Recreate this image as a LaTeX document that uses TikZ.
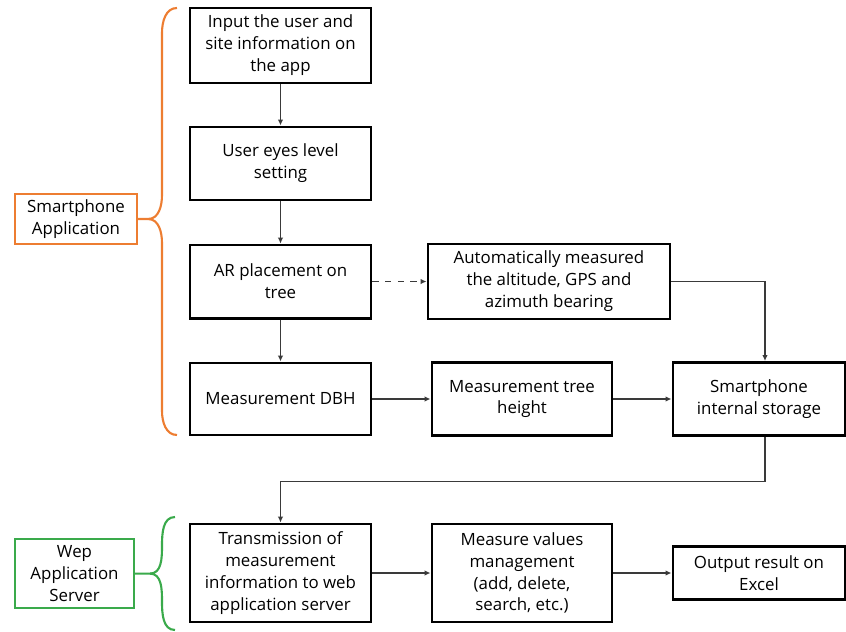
\documentclass[tikz,border=0pt]{standalone}
\usepackage{fontspec}
\setmainfont{Open Sans}
\usepackage{xcolor}
\definecolor{app-orange}{HTML}{ED7D31}
\definecolor{server-green}{HTML}{3AAA4B}
\definecolor{flow-grey}{HTML}{3A3A3A}
\usetikzlibrary{arrows.meta}

\tikzset{
    flowbox/.style={draw=black, line width=1.4pt, fill=white, align=center, inner sep=0pt,
                    font=\fontsize{8}{10.4}\selectfont},
    flowline/.style={draw=flow-grey, line width=0.6pt, -{Latex[length=2.8pt,width=2.6pt]}},
    groupbox/.style={draw, line width=1.1pt, fill=white, align=center, inner sep=0pt,
                     font=\fontsize{8}{10.4}\selectfont},
    bracket/.style={line width=1pt}
}

\begin{document}
\begin{tikzpicture}

    \useasboundingbox (0, 0) rectangle (14.1, -10.517);

    % Smartphone application
    \node[flowbox, minimum width=3.017cm, minimum height=1.25cm] (input) at (4.675, -0.758)
        {Input the user and\\site information on\\the app};
    \node[flowbox, minimum width=3.017cm, minimum height=1.217cm] (eyes) at (4.675, -2.725)
        {User eyes level\\setting};
    \node[flowbox, minimum width=3.017cm, minimum height=1.217cm] (arplace) at (4.675, -4.692)
        {AR placement on\\tree};
    \node[flowbox, minimum width=4.033cm, minimum height=1.25cm] (auto) at (9.15, -4.692)
        {Automatically measured\\the altitude, GPS and\\azimuth bearing};
    \node[flowbox, minimum width=3.017cm, minimum height=1.2cm] (dbh) at (4.675, -6.65)
        {Measurement DBH};
    \node[flowbox, minimum width=3.0cm, minimum height=1.217cm] (height) at (8.7, -6.65)
        {Measurement tree\\height};
    \node[flowbox, minimum width=2.867cm, minimum height=1.217cm] (storage) at (12.65, -6.65)
        {Smartphone\\internal storage};

    % Web application server
    \node[flowbox, minimum width=3.017cm, minimum height=1.633cm] (transmit) at (4.675, -9.55)
        {Transmission of\\measurement\\information to web\\application server};
    \node[flowbox, minimum width=3.0cm, minimum height=1.633cm] (manage) at (8.7, -9.55)
        {Measure values\\management\\(add, delete,\\search, etc.)};
    \node[flowbox, minimum width=2.867cm, minimum height=0.883cm] (excel) at (12.65, -9.55)
        {Output result on\\Excel};

    % Groups
    \node[groupbox, draw=app-orange, minimum width=2.033cm, minimum height=0.833cm] (app) at (1.267, -3.65)
        {Smartphone\\Application};
    \node[groupbox, draw=server-green, minimum width=1.98cm, minimum height=1.15cm] (server) at (1.242, -9.56)
        {Wep\\Application\\Server};

    % Braces
    \draw[app-orange, bracket] (app.east) -- (2.467, -3.65) to[out=0, in=270] (2.7, -3.25)
                                     -- (2.7, -0.55) to[out=90, in=180] (2.95, -0.133);
    \draw[app-orange, bracket] (2.467, -3.65) to[out=0, in=90] (2.7, -4.05)
                                     -- (2.7, -6.85) to[out=270, in=180] (2.95, -7.25);
    \draw[server-green, bracket] (server.east) -- (2.5, -9.56) to[out=0, in=270] (2.7, -9.1)
                                     to[out=90, in=180] (2.917, -8.617);
    \draw[server-green, bracket] (2.5, -9.56) to[out=0, in=90] (2.7, -10.02)
                                     to[out=270, in=180] (2.917, -10.5);

    % Flow
    \coordinate (drop) at (12.75, -8.02);
    \draw[flowline] (input) -- (eyes);
    \draw[flowline] (eyes) -- (arplace);
    \draw[flowline] (arplace) -- (dbh);
    \draw[flowline, dashed] (arplace) -- (auto);
    \draw[flowline] (dbh) -- (height);
    \draw[flowline] (height) -- (storage);
    \draw[flowline] (auto.east) -| (drop |- storage.north);
    \draw[flowline] (drop |- storage.south) -- (drop) -| (transmit.north);
    \draw[flowline] (transmit) -- (manage);
    \draw[flowline] (manage) -- (excel);

\end{tikzpicture}
\end{document}
